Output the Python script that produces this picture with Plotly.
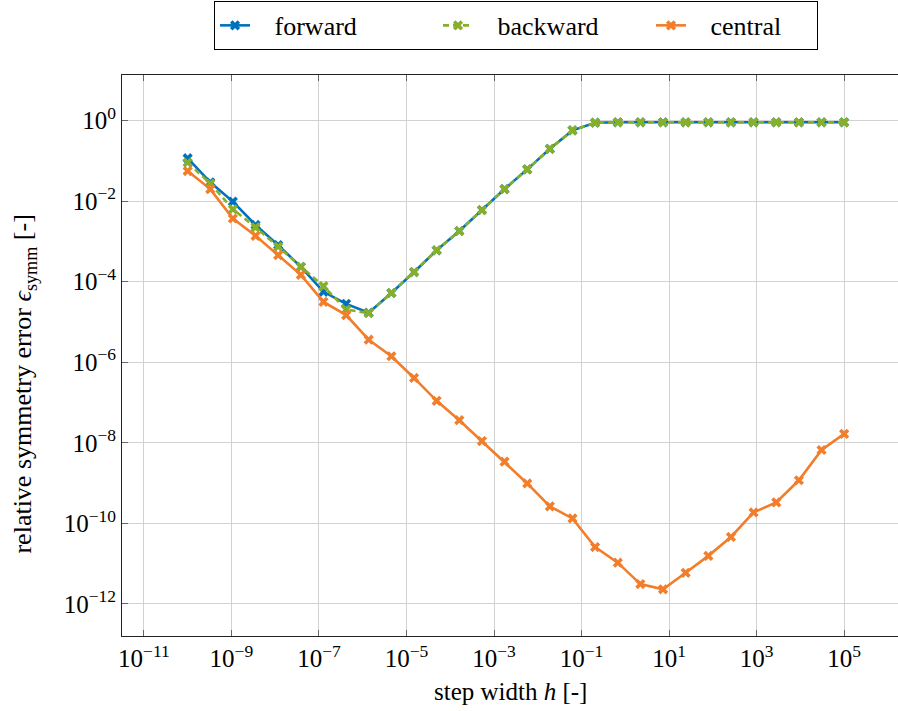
import plotly.graph_objects as go

# step widths h (30 points, geometric spacing from 1e-10 to 1e5)
h = [1.0e-10, 3.29e-10, 1.08e-9, 3.56e-9, 1.17e-8, 3.86e-8, 1.27e-7, 4.18e-7,
     1.37e-6, 4.52e-6, 1.49e-5, 4.89e-5, 1.61e-4, 5.30e-4, 1.74e-3, 5.74e-3,
     1.89e-2, 6.21e-2, 0.204, 0.673, 2.21, 7.28, 23.9, 78.8, 259.0, 853.0,
     2807.0, 9237.0, 30392.0, 1.0e5]

forward = [0.117, 0.0295, 0.00977, 0.00257, 8.13e-4, 2.34e-4, 5.62e-5, 2.82e-5,
           1.70e-5, 5.25e-5, 1.74e-4, 6.03e-4, 1.82e-3, 6.03e-3, 0.0200, 0.0617,
           0.200, 0.575, 0.891, 0.912, 0.912, 0.912, 0.912, 0.912, 0.912, 0.912,
           0.912, 0.912, 0.912, 0.912]

backward = [0.0912, 0.0275, 0.00631, 0.00224, 7.41e-4, 2.34e-4, 7.76e-5, 2.04e-5,
            1.66e-5, 5.25e-5, 1.74e-4, 6.03e-4, 1.82e-3, 6.03e-3, 0.0200, 0.0617,
            0.200, 0.575, 0.891, 0.912, 0.912, 0.912, 0.912, 0.912, 0.912, 0.912,
            0.912, 0.912, 0.912, 0.912]

central = [0.0562, 0.0200, 0.00372, 0.00138, 4.57e-4, 1.48e-4, 3.16e-5, 1.48e-5,
           3.63e-6, 1.41e-6, 4.07e-7, 1.10e-7, 3.63e-8, 1.10e-8, 3.39e-9, 9.77e-10,
           2.63e-10, 1.32e-10, 2.57e-11, 1.05e-11, 3.09e-12, 2.29e-12, 5.89e-12,
           1.55e-11, 4.57e-11, 1.86e-10, 3.31e-10, 1.17e-9, 6.61e-9, 1.66e-8]

x_tickvals = [1e-11, 1e-9, 1e-7, 1e-5, 1e-3, 1e-1, 1e1, 1e3, 1e5]
x_ticktext = ["10<sup>−11</sup>", "10<sup>−9</sup>", "10<sup>−7</sup>", "10<sup>−5</sup>",
              "10<sup>−3</sup>", "10<sup>−1</sup>", "10<sup>1</sup>", "10<sup>3</sup>",
              "10<sup>5</sup>"]
y_tickvals = [1e0, 1e-2, 1e-4, 1e-6, 1e-8, 1e-10, 1e-12]
y_ticktext = ["10<sup>0</sup>", "10<sup>−2</sup>", "10<sup>−4</sup>", "10<sup>−6</sup>",
              "10<sup>−8</sup>", "10<sup>−10</sup>", "10<sup>−12</sup>"]

FONT = "Liberation Serif, DejaVu Serif, serif"
BLUE = "#0072BD"
GREEN = "#86B02A"
ORANGE = "#F27D2A"
PAD = "\u00a0\u00a0\u00a0"

fig = go.Figure()
series = [("forward", forward, BLUE, "solid", 178),
          ("backward", backward, GREEN, "6px,4px", 168),
          ("central", central, ORANGE, "solid", 121)]
for name, ys, color, dash, lw in series:
    fig.add_trace(go.Scatter(
        x=h, y=ys, name=PAD + name, mode="lines+markers",
        line=dict(color=color, width=2.6, dash=dash),
        marker=dict(symbol="x", size=9, color=color, line=dict(width=0)),
        legendwidth=lw,
    ))

fig.update_layout(
    width=898, height=711,
    margin=dict(l=122, r=0, t=75, b=75),
    paper_bgcolor="white", plot_bgcolor="white",
    font=dict(family=FONT, size=24, color="black"),
    showlegend=True,
    legend=dict(
        orientation="h", x=0.1186, xanchor="left", y=1.132, yanchor="top",
        bordercolor="black", borderwidth=1, bgcolor="white",
        font=dict(family=FONT, size=26, color="black"),
        entrywidthmode="pixels",
    ),
    xaxis=dict(
        type="log", range=[-11.5, 6.23],
        tickvals=x_tickvals, ticktext=x_ticktext,
        showgrid=True, gridcolor="#d2d2d2", gridwidth=1, zeroline=False,
        showline=True, linecolor="#222", linewidth=1, mirror="ticks",
        ticks="inside", ticklen=6, tickcolor="#666",
        tickfont=dict(family=FONT, size=25),
    ),
    yaxis=dict(
        type="log", range=[-12.80, 1.135],
        tickvals=y_tickvals, ticktext=y_ticktext,
        showgrid=True, gridcolor="#d2d2d2", gridwidth=1, zeroline=False,
        showline=True, linecolor="#222", linewidth=1, mirror=False,
        ticks="inside", ticklen=6, tickcolor="#666",
        tickfont=dict(family=FONT, size=25),
    ),
    annotations=[
        dict(text="step width <i>h</i> [-]", xref="paper", yref="paper",
             x=0.50, y=-0.0998, xanchor="center", yanchor="middle",
             showarrow=False, font=dict(family=FONT, size=25)),
        dict(text="relative symmetry error <i>ϵ</i><sub>symm</sub> [-]",
             xref="paper", yref="paper", x=-0.1263, y=0.45, textangle=-90,
             xanchor="center", yanchor="middle", showarrow=False,
             font=dict(family=FONT, size=26)),
    ],
)

fig.write_html("out.html")
